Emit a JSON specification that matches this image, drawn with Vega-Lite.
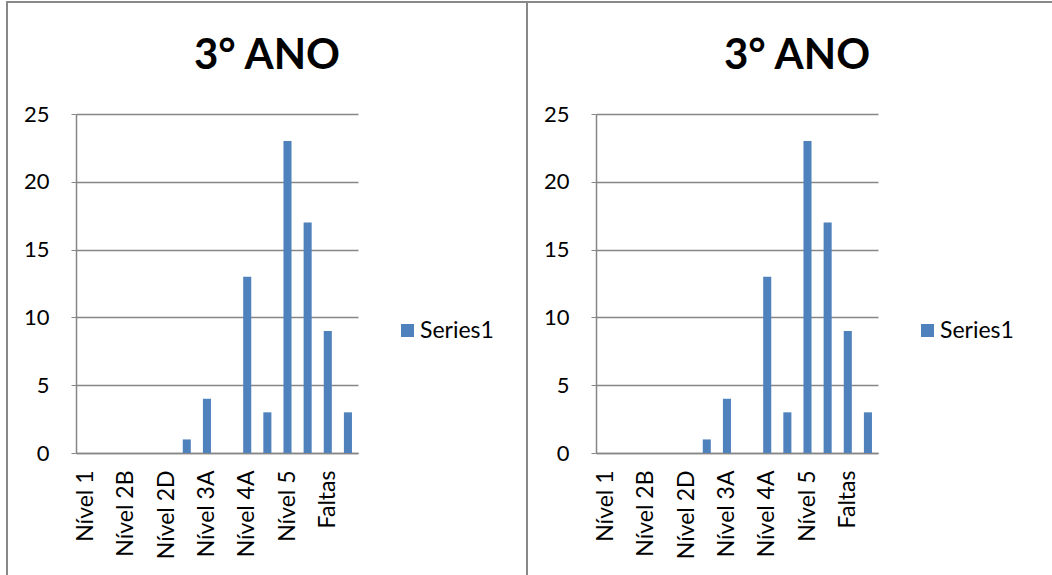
{
  "$schema": "https://vega.github.io/schema/vega-lite/v6.json",
  "padding": {"left": 6, "top": 1, "right": 0, "bottom": 0},
  "autosize": {"type": "pad"},
  "bounds": "flush",
  "spacing": 0,
  "background": "white",
  "resolve": {"scale": {"color": "independent"}, "legend": {"color": "independent"}},
  "datasets": {
    "d": [
      {"cat": "Nível 1", "value": 0, "serie": "Series1"},
      {"cat": "Nível 2A", "value": 0, "serie": "Series1"},
      {"cat": "Nível 2B", "value": 0, "serie": "Series1"},
      {"cat": "Nível 2C", "value": 0, "serie": "Series1"},
      {"cat": "Nível 2D", "value": 0, "serie": "Series1"},
      {"cat": "Nível 3", "value": 1, "serie": "Series1"},
      {"cat": "Nível 3A", "value": 4, "serie": "Series1"},
      {"cat": "Nível 3B", "value": 0, "serie": "Series1"},
      {"cat": "Nível 4A", "value": 13, "serie": "Series1"},
      {"cat": "Nível 4B", "value": 3, "serie": "Series1"},
      {"cat": "Nível 5", "value": 23, "serie": "Series1"},
      {"cat": "Nível 6", "value": 17, "serie": "Series1"},
      {"cat": "Faltas", "value": 9, "serie": "Series1"},
      {"cat": "Transferidos", "value": 3, "serie": "Series1"}
    ]
  },
  "config": {
    "view": {"stroke": "#898989", "strokeWidth": 2},
    "font": "Lato",
    "axis": {"labelColor": "black", "domainColor": "#868686", "tickColor": "#868686", "gridColor": "#868686", "gridOpacity": 1, "domainWidth": 1.5, "gridWidth": 1.5}
  },
  "hconcat": [
    {
      "width": 520,
      "height": 600,
      "data": {"name": "d"},
      "title": {"text": "3° ANO", "fontSize": 42, "fontWeight": "bold", "font": "Lato", "color": "black", "anchor": "middle", "frame": "group", "baseline": "alphabetic", "offset": -109},
      "mark": {"type": "bar"},
      "encoding": {
        "x": {"field": "cat", "type": "nominal", "sort": null,
          "scale": {"range": [69, 351], "paddingInner": 0.6, "paddingOuter": 0.3},
          "axis": {"title": null, "values": ["Nível 1", "Nível 2B", "Nível 2D", "Nível 3A", "Nível 4A", "Nível 5", "Faltas"], "labelAngle": -90, "labelAlign": "right", "labelBaseline": "middle", "ticks": false, "labelPadding": 17, "offset": -149, "grid": false, "labelFontSize": 23}},
        "y": {"field": "value", "type": "quantitative",
          "scale": {"domain": [0, 25], "range": [451, 112], "nice": false},
          "axis": {"title": null, "values": [0, 5, 10, 15, 20, 25], "offset": -69, "tickSize": 5, "labelPadding": 22, "grid": true, "labelFontSize": 22}},
        "color": {"field": "serie", "type": "nominal", "scale": {"range": ["#4F81BD"]},
          "legend": {"orient": "none", "legendX": 389, "legendY": 317, "title": null, "symbolType": "square", "symbolSize": 169, "labelFontSize": 23, "padding": 0, "labelOffset": 1, "symbolStrokeWidth": 0, "labelColor": "black"}}
      }
    },
    {
      "width": 540,
      "height": 600,
      "data": {"name": "d"},
      "title": {"text": "3° ANO", "fontSize": 42, "fontWeight": "bold", "font": "Lato", "color": "black", "anchor": "start", "frame": "group", "baseline": "alphabetic", "offset": -109, "dx": 197},
      "mark": {"type": "bar"},
      "encoding": {
        "x": {"field": "cat", "type": "nominal", "sort": null,
          "scale": {"range": [69, 351], "paddingInner": 0.6, "paddingOuter": 0.3},
          "axis": {"title": null, "values": ["Nível 1", "Nível 2B", "Nível 2D", "Nível 3A", "Nível 4A", "Nível 5", "Faltas"], "labelAngle": -90, "labelAlign": "right", "labelBaseline": "middle", "ticks": false, "labelPadding": 17, "offset": -149, "grid": false, "labelFontSize": 23}},
        "y": {"field": "value", "type": "quantitative",
          "scale": {"domain": [0, 25], "range": [451, 112], "nice": false},
          "axis": {"title": null, "values": [0, 5, 10, 15, 20, 25], "offset": -69, "tickSize": 5, "labelPadding": 22, "grid": true, "labelFontSize": 22}},
        "color": {"field": "serie", "type": "nominal", "scale": {"range": ["#4F81BD"]},
          "legend": {"orient": "none", "legendX": 389, "legendY": 317, "title": null, "symbolType": "square", "symbolSize": 169, "labelFontSize": 23, "padding": 0, "labelOffset": 1, "symbolStrokeWidth": 0, "labelColor": "black"}}
      }
    }
  ]
}
